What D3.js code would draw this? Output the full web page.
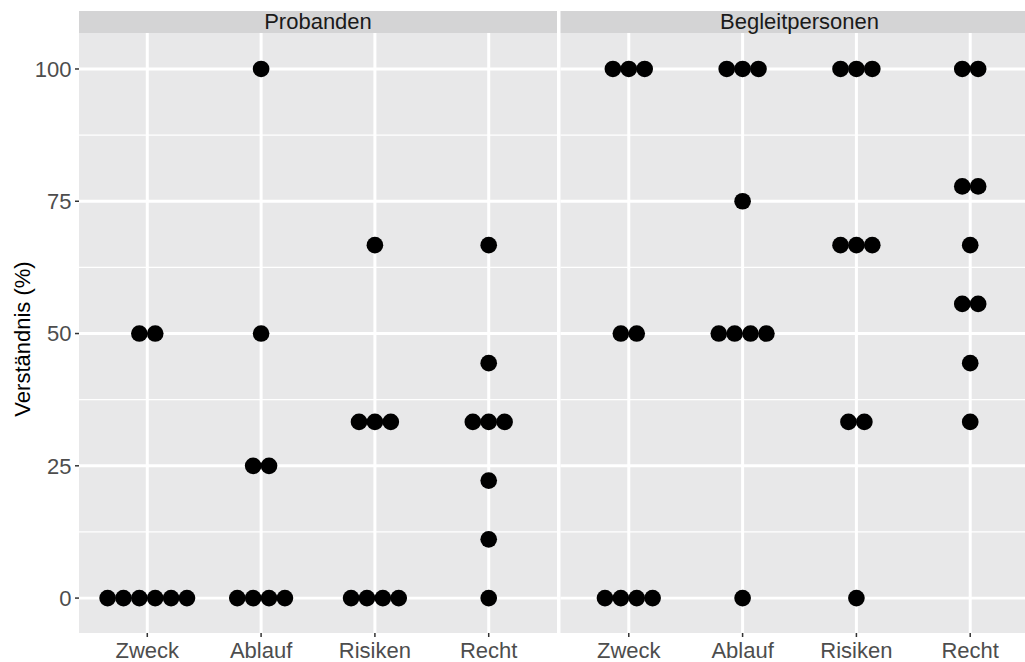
<!DOCTYPE html>
<html>
<head>
<meta charset="utf-8">
<script src="https://cdn.jsdelivr.net/npm/d3@7"></script>
<style>
  html, body { margin: 0; padding: 0; background: #fff; }
  svg { display: block; font-family: "Liberation Sans", Arial, Helvetica, sans-serif; }
</style>
</head>
<body>
<svg id="chart" width="1025" height="662"></svg>
<script>
// Categories and facets
const categories = ["Zweck", "Ablauf", "Risiken", "Recht"];
const facets = ["Probanden", "Begleitpersonen"];

// Understanding scores (%) per respondent, one array per category
const probandenZweck   = [0, 0, 0, 0, 0, 0, 50, 50];
const probandenAblauf  = [0, 0, 0, 0, 25, 25, 50, 100];
const probandenRisiken = [0, 0, 0, 0, 33.3, 33.3, 33.3, 66.7];
const probandenRecht   = [0, 11.1, 22.2, 33.3, 33.3, 33.3, 44.4, 66.7];

const begleitZweck   = [0, 0, 0, 0, 50, 50, 100, 100, 100];
const begleitAblauf  = [0, 50, 50, 50, 50, 75, 100, 100, 100];
const begleitRisiken = [0, 33.3, 33.3, 66.7, 66.7, 66.7, 100, 100, 100];
const begleitRecht   = [33.3, 44.4, 55.6, 55.6, 66.7, 77.8, 77.8, 100, 100];

const yTicks = [0, 25, 50, 75, 100];
const yMinorTicks = [12.5, 37.5, 62.5, 87.5];
const yTitle = "Verständnis (%)";

// Dot bin width in data units (%)
const binwidth = 3;

const facetData = [
  [probandenZweck, probandenAblauf, probandenRisiken, probandenRecht],
  [begleitZweck, begleitAblauf, begleitRisiken, begleitRecht]
];

// Layout
const panelTop = 33, panelBottom = 633, stripTop = 11;
const panelLefts = [79, 560.5];
const panelWidth = 478;

const svg = d3.select("#chart");

const y = d3.scaleLinear().domain([-6.6, 106.8]).range([panelBottom, panelTop]);
const dotD = y(0) - y(binwidth);

const tickColor = "#4d4d4d";
const fontSize = 22;

facets.forEach((facet, fi) => {
  const x0 = panelLefts[fi];
  const x = d3.scalePoint().domain(categories).range([x0, x0 + panelWidth]).padding(0.6);
  const g = svg.append("g");

  // Panel background
  g.append("rect")
    .attr("x", x0).attr("y", panelTop)
    .attr("width", panelWidth).attr("height", panelBottom - panelTop)
    .attr("fill", "#e8e8e9");

  // Minor grid
  g.selectAll("line.minor").data(yMinorTicks).join("line")
    .attr("x1", x0).attr("x2", x0 + panelWidth)
    .attr("y1", d => y(d)).attr("y2", d => y(d))
    .attr("stroke", "#fff").attr("stroke-width", 1.3);

  // Major grid
  g.selectAll("line.hmajor").data(yTicks).join("line")
    .attr("x1", x0).attr("x2", x0 + panelWidth)
    .attr("y1", d => y(d)).attr("y2", d => y(d))
    .attr("stroke", "#fff").attr("stroke-width", 2.9);
  g.selectAll("line.vmajor").data(categories).join("line")
    .attr("x1", d => x(d)).attr("x2", d => x(d))
    .attr("y1", panelTop).attr("y2", panelBottom)
    .attr("stroke", "#fff").attr("stroke-width", 3);

  // Strip
  g.append("rect")
    .attr("x", x0).attr("y", stripTop)
    .attr("width", panelWidth).attr("height", panelTop - stripTop)
    .attr("fill", "#d4d4d5");
  g.append("text")
    .attr("x", x0 + panelWidth / 2).attr("y", 29)
    .attr("text-anchor", "middle")
    .attr("font-size", fontSize).attr("fill", "#1a1a1a")
    .text(facet);

  // Dots: stacked horizontally, centred on category
  const dots = [];
  facetData[fi].forEach((vals, ci) => {
    const groups = d3.groups(vals, v => v);
    groups.forEach(([v, arr]) => {
      const n = arr.length;
      arr.forEach((_, i) => {
        dots.push({ cat: categories[ci], value: v, offset: i - (n - 1) / 2 });
      });
    });
  });
  g.selectAll("circle").data(dots).join("circle")
    .attr("cx", d => x(d.cat) + d.offset * dotD)
    .attr("cy", d => y(d.value))
    .attr("r", dotD / 2 + 0.4)
    .attr("fill", "#000");

  // X axis ticks and labels
  g.selectAll("line.xtick").data(categories).join("line")
    .attr("x1", d => x(d)).attr("x2", d => x(d))
    .attr("y1", panelBottom).attr("y2", panelBottom + 4)
    .attr("stroke", "#333").attr("stroke-width", 1.5);
  g.selectAll("text.xlab").data(categories).join("text")
    .attr("x", d => x(d)).attr("y", 658)
    .attr("text-anchor", "middle")
    .attr("font-size", fontSize).attr("fill", tickColor)
    .text(d => d);
});

// Y axis
const ya = svg.append("g");
ya.selectAll("line").data(yTicks).join("line")
  .attr("x1", panelLefts[0] - 4).attr("x2", panelLefts[0])
  .attr("y1", d => y(d)).attr("y2", d => y(d))
  .attr("stroke", "#333").attr("stroke-width", 1.5);
ya.selectAll("text").data(yTicks).join("text")
  .attr("x", panelLefts[0] - 7.5).attr("y", d => y(d) + 7.8)
  .attr("text-anchor", "end")
  .attr("font-size", fontSize).attr("fill", tickColor)
  .text(d => d);

svg.append("text")
  .attr("transform", `translate(30, ${(panelTop + panelBottom) / 2 + 6}) rotate(-90)`)
  .attr("text-anchor", "middle")
  .attr("font-size", fontSize).attr("fill", "#000")
  .text(yTitle);
</script>
</body>
</html>
